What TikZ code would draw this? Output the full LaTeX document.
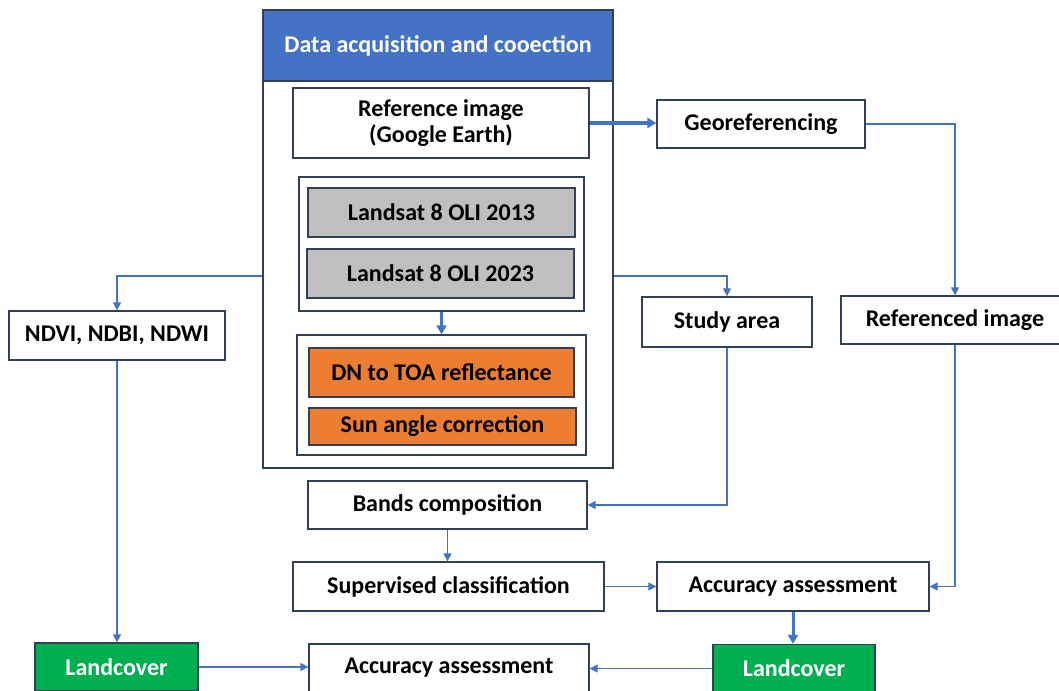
\documentclass[tikz,border=0pt]{standalone}
\usepackage{fontspec}
\setmainfont{Carlito}
\usetikzlibrary{arrows.meta}
\definecolor{bordc}{HTML}{2F4058}
\definecolor{linec}{HTML}{4472C4}
\definecolor{hdrc}{HTML}{4472C4}
\definecolor{grayc}{HTML}{BFBFBF}
\definecolor{orangec}{HTML}{ED7D31}
\definecolor{greenc}{HTML}{00B050}
\tikzset{
  box/.style={draw=bordc, line width=1.3pt, fill=white, inner sep=0pt, align=center,
    font=\fontsize{24}{26}\selectfont\bfseries, text=black},
  graybox/.style={box, fill=grayc},
  orangebox/.style={box, fill=orangec},
  greenbox/.style={box, fill=greenc, text=white},
  grp/.style={draw=bordc, line width=1.3pt, inner sep=0pt},
  conn/.style={draw=linec, line width=1.3pt, -{Triangle[length=8pt,width=8pt]}},
  thickconn/.style={conn, line width=3pt, -{Triangle[length=9pt,width=10pt]}},
}
\newcommand{\bx}[6]{\node[#1, minimum width=#4pt, minimum height=#5pt] (#2) at (#3) {#6};}
\begin{document}
\begin{tikzpicture}[x=1pt,y=-1pt]
\useasboundingbox (0,0) rectangle (1059,690);
\clip (0,0) rectangle (1059,690);
% outer container
\node[grp, fill=white, minimum width=350pt, minimum height=458pt] (outer) at (438,239) {};
\node[fill=hdrc, draw=bordc, line width=1.3pt, minimum width=350pt, minimum height=71pt, inner sep=0pt,
  text=white, font=\fontsize{24}{26}\selectfont\bfseries] (hdr) at (438,45.5) {Data acquisition and cooection};
\node[grp, minimum width=350pt, minimum height=458pt] at (438,239) {};
% inside
\bx{box}{refimg}{441,123}{296}{70}{Reference image\\(Google Earth)}
\node[grp, minimum width=285pt, minimum height=134pt] (landgroup) at (441.5,244) {};
\bx{graybox}{l2013}{441.5,212.5}{267}{49}{Landsat 8 OLI 2013}
\bx{graybox}{l2023}{440.5,273.5}{267}{49}{Landsat 8 OLI 2023}
\node[grp, minimum width=289pt, minimum height=120pt] (corrgroup) at (441.5,395) {};
\bx{orangebox}{dn}{441.5,372.5}{265}{49}{DN to TOA reflectance}
\bx{orangebox}{sun}{442.5,426.5}{267}{37}{Sun angle correction}
% other boxes
\bx{box}{georef}{761,124}{208}{48}{Georeferencing}
\bx{box}{study}{727,322}{170}{50}{Study area}
\bx{box}{refd}{955,320}{228}{48}{Referenced image}
\bx{box}{ndvi}{117,335.5}{216}{49}{NDVI, NDBI, NDWI}
\bx{box}{bands}{447.5,505}{279}{48}{Bands composition}
\bx{box}{sup}{448.5,586.5}{311}{49}{Supervised classification}
\bx{box}{acc1}{793,586.5}{272}{49}{Accuracy assessment}
\bx{greenbox}{lc1}{116.5,667}{163}{48}{Landcover}
\bx{greenbox}{lc2}{794,668.5}{162}{48}{Landcover}
\bx{box}{acc2}{449,668}{280}{48}{Accuracy assessment}
% connectors
\draw[thickconn] (refimg.east) -- (refimg.east -| georef.west);
\draw[conn] (georef.east) -| (refd.north);
\draw[conn] ([yshift=-37pt]outer.east) -| (study.north);
\draw[conn] ([yshift=-37pt]outer.west) -| (ndvi.north);
\draw[thickconn] (landgroup.south) -- (corrgroup.north);
\draw[conn] (ndvi.south) -- (ndvi.south |- lc1.north);
\draw[conn] (lc1.east) -- (lc1.east -| acc2.west);
\draw[conn] (study.south) |- (bands.east);
\draw[conn] (bands.south) -- (bands.south |- sup.north);
\draw[conn] (sup.east) -- (sup.east -| acc1.west);
\draw[conn] (refd.south) |- (acc1.east);
\draw[thickconn] (acc1.south) -- (acc1.south |- lc2.north);
\draw[conn] (lc2.west) -- (lc2.west -| acc2.east);
\end{tikzpicture}
\end{document}
